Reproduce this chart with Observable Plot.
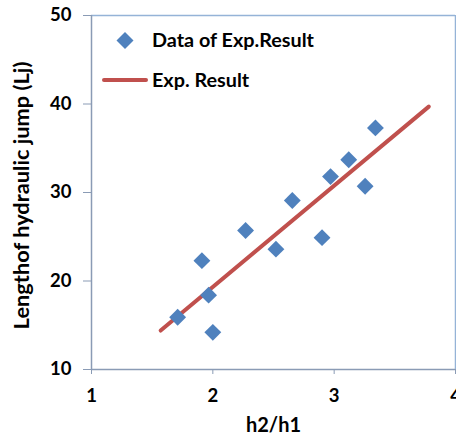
<!DOCTYPE html>
<html>
<head>
<meta charset="utf-8">
<script src="https://cdn.jsdelivr.net/npm/d3@7"></script>
<script src="https://cdn.jsdelivr.net/npm/@observablehq/plot@0.6"></script>
<style>
  html, body { margin: 0; padding: 0; background: #fff; }
  #wrap { position: relative; width: 456px; height: 442px; font-family: Lato, "Open Sans", sans-serif; }
  .leg { position: absolute; font-weight: bold; font-size: 19.8px; color: #000; line-height: 1; white-space: nowrap; }
</style>
</head>
<body>
<div id="wrap"></div>
<script>
// Data
const ratioH2H1 = [1.71, 1.91, 1.965, 2.00, 2.27, 2.52, 2.655, 2.90, 2.97, 3.12, 3.255, 3.34];
const jumpLength = [15.9, 22.3, 18.4, 14.2, 25.7, 23.6, 29.1, 24.9, 31.8, 33.7, 30.7, 37.3];
const fitX = [1.57, 3.78];
const fitY = [14.4, 39.7];
const xTicks = [1, 2, 3, 4];
const yTicks = [10, 20, 30, 40, 50];
const xLabel = "h2/h1";
const yLabel = "Lengthof hydraulic jump (Lj)";
const legendNames = ["Data of Exp.Result", "Exp. Result"];

const points = ratioH2H1.map((x, i) => ({x, y: jumpLength[i]}));
const fit = fitX.map((x, i) => ({x, y: fitY[i]}));

const blue = "#4F81BD", red = "#C0504D";
const axisColor = "#8A9BB5", frameColor = "#95B3D7";

const chart = Plot.plot({
  width: 456,
  height: 442,
  marginLeft: 91,
  marginRight: 1,
  marginTop: 15,
  marginBottom: 73,
  style: {fontFamily: "Lato, 'Open Sans', sans-serif", fontWeight: "bold", fontSize: "18px", color: "#000", background: "#fff"},
  x: {domain: [1, 4], ticks: xTicks, label: null},
  y: {domain: [10, 50], ticks: yTicks, label: null},
  marks: [
    Plot.ruleY([50], {stroke: frameColor, strokeWidth: 1.5}),
    Plot.ruleX([4], {stroke: frameColor, strokeWidth: 1.5}),
    Plot.axisX({ticks: xTicks, tickSize: 5, tickPadding: 14, stroke: axisColor, tickFormat: d => d, fontSize: 18.5, fontWeight: "bold", label: null}),
    Plot.axisY({ticks: yTicks, tickSize: 8, tickPadding: 12, stroke: axisColor, tickFormat: d => d, fontSize: 18.5, fontWeight: "bold", label: null}),
    Plot.ruleX([1], {stroke: axisColor, strokeWidth: 1.5}),
    Plot.ruleY([10], {stroke: axisColor, strokeWidth: 1.5}),
    Plot.line(fit, {x: "x", y: "y", stroke: red, strokeWidth: 4, strokeLinecap: "round"}),
    Plot.dot(points, {x: "x", y: "y", symbol: "diamond2", r: 7.6, fill: blue, stroke: "none"}),
    Plot.text([xLabel], {frameAnchor: "bottom", dy: 62, text: d => d, fontSize: 20, fontWeight: "bold", fill: "#000"}),
    Plot.text([yLabel], {frameAnchor: "left", dx: -69, dy: 3, rotate: -90, textAnchor: "middle", text: d => d, fontSize: 21.8, fontWeight: "bold", fill: "#000"})
  ]
});

const wrap = document.getElementById("wrap");
wrap.appendChild(chart);

// Legend overlay (inside plot area, top-left)
const leg = document.createElement("div");
leg.innerHTML = `
  <svg style="position:absolute;left:0;top:0;overflow:visible" width="456" height="442">
    <path d="M125,32 L133.5,40.5 L125,49 L116.5,40.5 Z" fill="${blue}"/>
    <line x1="104" y1="80" x2="146" y2="80" stroke="${red}" stroke-width="4" stroke-linecap="round"/>
  </svg>
  <div class="leg" style="left:152px;top:30px">${legendNames[0]}</div>
  <div class="leg" style="left:152px;top:70px">${legendNames[1]}</div>`;
wrap.appendChild(leg);
</script>
</body>
</html>
